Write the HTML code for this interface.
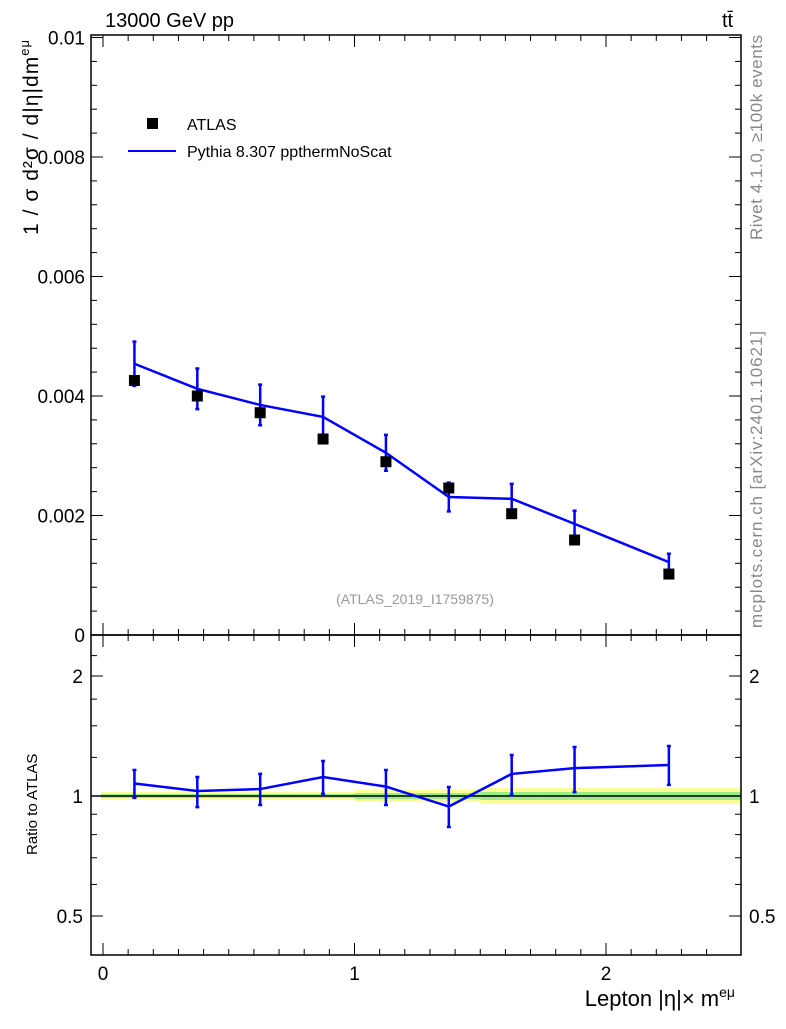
<!DOCTYPE html>
<html><head><meta charset="utf-8"><style>body{margin:0;background:#fff}svg{font-family:"Liberation Sans",sans-serif}</style></head>
<body>
<svg id="c" width="786" height="1024" viewBox="0 0 786 1024" xmlns="http://www.w3.org/2000/svg">
<text x="105" y="27" font-size="20">13000 GeV pp</text>
<text x="722" y="27" font-size="20">tt̄</text>
<text transform="translate(762,240) rotate(-90)" font-size="17" fill="#888" textLength="205">Rivet 4.1.0, ≥100k events</text>
<text transform="translate(762,628) rotate(-90)" font-size="17" fill="#888" textLength="297">mcplots.cern.ch [arXiv:2401.10621]</text>
<text transform="translate(38,235) rotate(-90)" font-size="21" textLength="195">1 / σ  d²σ / d|η|dm<tspan font-size="13" dy="-9">eμ</tspan></text>
<text transform="translate(37,855) rotate(-90)" font-size="15">Ratio to ATLAS</text>
<text x="735" y="1006" font-size="22" text-anchor="end">Lepton |η|× m<tspan font-size="14" dy="-9">eμ</tspan></text>
<text x="415" y="604" font-size="14" fill="#999" text-anchor="middle">(ATLAS_2019_I1759875)</text>
<rect x="147" y="118" width="11" height="11" fill="#000"/>
<text x="187" y="130" font-size="16">ATLAS</text>
<line x1="128" y1="151" x2="176" y2="151" stroke="#00f" stroke-width="2"/>
<text x="187" y="157" font-size="16">Pythia 8.307 ppthermNoScat</text>
<g id="g"></g>
</svg>
<script>
const binLo=[0,0.25,0.5,0.75,1,1.25,1.5,1.75,2];
const binHi=[0.25,0.5,0.75,1,1.25,1.5,1.75,2,2.5];
const dataY=[0.00426,0.0040,0.00372,0.00328,0.0029,0.00246,0.00203,0.00159,0.00102];
const mcY=[0.00454,0.00412,0.00385,0.00365,0.00305,0.00231,0.00228,0.00186,0.00122];
const mcErr=[0.00037,0.00034,0.00034,0.00034,0.0003,0.00024,0.00025,0.00022,0.00014];
const ratioY=[1.075,1.029,1.041,1.116,1.056,0.941,1.136,1.175,1.196];
const ratioHi=[1.162,1.116,1.136,1.224,1.162,1.053,1.267,1.327,1.335];
const ratioLo=[0.989,0.938,0.949,1.012,0.949,0.836,1.006,1.023,1.066];
const yTicks=[0,0.002,0.004,0.006,0.008,0.01];
const yTickLabels=["0","0.002","0.004","0.006","0.008","0.01"];
const xTicks=[0,1,2];
const rTicks=[0.5,1,2];
const NS="http://www.w3.org/2000/svg";
const g=document.getElementById('g');
const L=91,R=741,T=35,M=635,B=955;
const sx=v=>103+v*251.5;
const sy=v=>635-v*59750;
const sr=v=>796-120*Math.log2(v);
function el(t,a,p){const e=document.createElementNS(NS,t);for(const k in a)e.setAttribute(k,a[k]);(p||g).appendChild(e);return e;}
for(let i=0;i<binLo.length;i++){
 const w=i<4?4:(i<6?6:8);
 const x1=i==0?L+10:sx(binLo[i]);const x2=i==binLo.length-1?R:sx(binHi[i]);
 const y=el('rect',{x:x1,y:796-w,width:x2-x1,height:2*w,fill:'#ffff99'});
 
 const gr=el('rect',{x:x1,y:796-w/2,width:x2-x1,height:w,fill:'#99ee88'});
 
}
const one=el('line',{x1:L,x2:R,y1:796,y2:796,stroke:'#000','stroke-width':1.5});

for(const [y1,y2,n] of [[T,M,'main-frame'],[M,B,'ratio-frame']]){
 const f=el('rect',{x:L,y:y1,width:R-L,height:y2-y1,fill:'none',stroke:'#000','stroke-width':1.5});
 
}
yTicks.forEach((v,i)=>{
 const y=sy(v);
 el('line',{x1:L,x2:L+12,y1:y,y2:y,stroke:'#000'});el('line',{x1:R-12,x2:R,y1:y,y2:y,stroke:'#000'});
 const t=el('text',{x:L-6,y:y+7,'font-size':19,'text-anchor':'end'});t.textContent=yTickLabels[i];
 
});
for(let v=0;v<=0.0101;v+=0.0004){const y=sy(v);if(y<T)break;el('line',{x1:L,x2:L+6,y1:y,y2:y,stroke:'#000'});el('line',{x1:R-6,x2:R,y1:y,y2:y,stroke:'#000'});}
rTicks.forEach(v=>{const y=sr(v);el('line',{x1:L,x2:L+12,y1:y,y2:y,stroke:'#000'});el('line',{x1:R-12,x2:R,y1:y,y2:y,stroke:'#000'});
 for(const x of [L-8,R+8]){const t=el('text',{x:x,y:y+7,'font-size':19,'text-anchor':x<L?'end':'start'});t.textContent=String(v);
 }});
[0.6,0.7,0.8,0.9,1.5,1.25,1.75,2.25].forEach(v=>{const y=sr(v);el('line',{x1:L,x2:L+6,y1:y,y2:y,stroke:'#000'});el('line',{x1:R-6,x2:R,y1:y,y2:y,stroke:'#000'});});
for(let v=0;v<=2.5;v+=0.1){const x=sx(v);const big=Math.abs(v-Math.round(v))<1e-6;const h=big?12:6;
 for(const [a,b] of [[T,T+h],[M-h,M],[M,M+h],[B-h,B]])el('line',{x1:x,x2:x,y1:a,y2:b,stroke:'#000'});}
xTicks.forEach(v=>{const t=el('text',{x:sx(v),y:980,'font-size':19,'text-anchor':'middle'});t.textContent=String(v);
 });
const cx=i=>sx((binLo[i]+binHi[i])/2);
let pts=mcY.map((v,i)=>cx(i)+','+sy(v)).join(' ');
const ml=el('polyline',{points:pts,fill:'none',stroke:'#00f','stroke-width':2.5});

mcY.forEach((v,i)=>{const x=cx(i);const e=el('path',{d:`M${x},${sy(v+mcErr[i])}V${sy(v-mcErr[i])}M${x-2},${sy(v+mcErr[i])}h4M${x-2},${sy(v-mcErr[i])}h4`,stroke:'#00f','stroke-width':2.5,fill:'none'});
 });
dataY.forEach((v,i)=>{const r=el('rect',{x:cx(i)-5.5,y:sy(v)-5.5,width:11,height:11,fill:'#000'});
 });
pts=ratioY.map((v,i)=>cx(i)+','+sr(v)).join(' ');
const rl=el('polyline',{points:pts,fill:'none',stroke:'#00f','stroke-width':2.5});

ratioY.forEach((v,i)=>{const x=cx(i);const e=el('path',{d:`M${x},${sr(ratioHi[i])}V${sr(ratioLo[i])}M${x-2},${sr(ratioHi[i])}h4M${x-2},${sr(ratioLo[i])}h4`,stroke:'#00f','stroke-width':2.5,fill:'none'});
 });
</script>
</body></html>
